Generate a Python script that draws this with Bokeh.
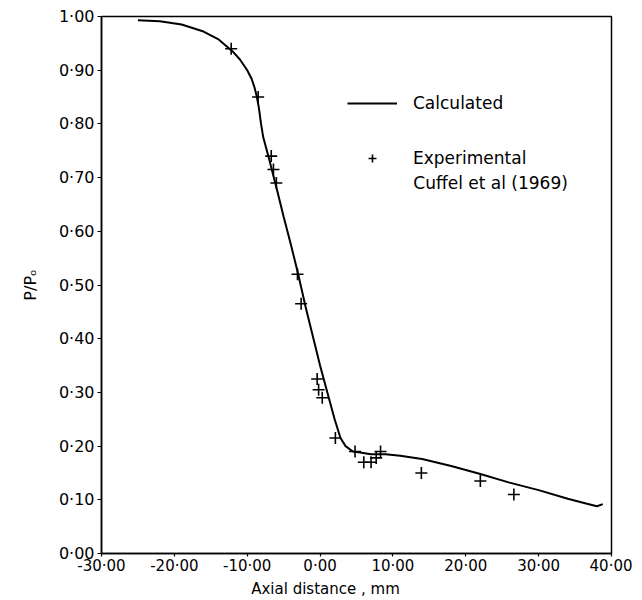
from bokeh.plotting import figure
from bokeh.models import (Range1d, FixedTicker, CustomJSTickFormatter, Legend, LegendItem, Label)
from bokeh.embed import file_html
from bokeh.resources import INLINE

# Calculated curve
calc_x = [-25, -22, -19, -16, -14, -12, -11, -10, -9.4, -9.0, -8.7, -8.4, -8.1, -7.8, -7.4, -7, -6.5, -6,
          -5, -4, -3, -2, -1, 0, 1, 2, 2.8, 3.5, 4.5, 5.5, 7, 9, 11, 14, 18, 22, 26, 30, 34, 36.5, 38, 38.8]
calc_y = [0.993, 0.991, 0.985, 0.972, 0.958, 0.935, 0.92, 0.90, 0.884, 0.868, 0.852, 0.83, 0.80, 0.775,
          0.755, 0.735, 0.708, 0.682, 0.627, 0.575, 0.52, 0.46, 0.405, 0.35, 0.30, 0.25, 0.215, 0.20, 0.19,
          0.188, 0.185, 0.185, 0.182, 0.176, 0.163, 0.148, 0.132, 0.118, 0.102, 0.093, 0.088, 0.092]

# Experimental (Cuffel et al 1969)
exp_x = [-12.2, -8.5, -6.7, -6.4, -6.0, -3.1, -2.6, -0.4, -0.2, 0.3, 2.1, 4.8, 6.0, 7.0, 7.7, 8.3, 13.9, 22.0, 26.6]
exp_y = [0.94, 0.85, 0.74, 0.715, 0.69, 0.52, 0.465, 0.325, 0.305, 0.29, 0.215, 0.19, 0.17, 0.17, 0.178, 0.19, 0.15, 0.135, 0.11]

x_ticks = [-30, -20, -10, 0, 10, 20, 30, 40]
y_ticks = [0.0, 0.1, 0.2, 0.3, 0.4, 0.5, 0.6, 0.7, 0.8, 0.9, 1.0]

FONT = "DejaVu Sans"

p = figure(width=632, height=600, output_backend="svg", toolbar_location=None,
           x_range=Range1d(-30, 40), y_range=Range1d(0, 1),
           min_border_left=101, min_border_right=21, min_border_top=16, min_border_bottom=41)
p.xgrid.visible = False
p.ygrid.visible = False
p.outline_line_color = "black"
p.outline_line_width = 1.5
p.outline_line_alpha = 1

fmt = CustomJSTickFormatter(code="return tick.toFixed(2).replace('.', '\u00b7');")
for ax, ticks in ((p.xaxis[0], x_ticks), (p.yaxis[0], y_ticks)):
    ax.ticker = FixedTicker(ticks=ticks)
    ax.formatter = fmt
    ax.minor_tick_line_color = None
    ax.major_tick_out = 4
    ax.major_tick_in = 0
    ax.axis_line_width = 1.5
    ax.major_tick_line_width = 1.2
    ax.major_label_text_font = FONT
    ax.major_label_text_font_size = "16px"
    ax.major_label_text_color = "black"
    ax.axis_label_text_font = FONT
    ax.axis_label_text_font_size = "16px"
    ax.axis_label_text_font_style = "normal"
    ax.axis_label_text_color = "black"

p.xaxis.major_tick_out = 3
p.xaxis.major_label_text_font_size = "15px"
p.xaxis.axis_label_text_font_size = "15px"
# title sits a little left of the frame centre in the original
p.xaxis.axis_label = "Axial  distance , mm" + "\u00a0" * 12
p.xaxis.major_label_standoff = 0
p.xaxis.axis_label_standoff = 2
p.yaxis.axis_label = "P/P\u2092"
p.yaxis.major_label_standoff = 3
p.yaxis.axis_label_standoff = 16

r_line = p.line(calc_x, calc_y, line_color="black", line_width=2)
r_pts = p.scatter(exp_x, exp_y, marker="cross", size=12, line_color="black", line_width=1.6)

legend = Legend(items=[LegendItem(label="Calculated", renderers=[r_line]),
                       LegendItem(label="Experimental", renderers=[r_pts])],
                location=(246, 385), orientation="vertical",
                glyph_width=50, glyph_height=20, label_height=20, label_standoff=16,
                spacing=35, padding=0, margin=0,
                border_line_color=None, background_fill_alpha=0,
                label_text_font=FONT, label_text_font_size="17px", label_text_color="black")
p.add_layout(legend, "center")

p.add_layout(Label(x=12.8, y=0.69, text="Cuffel  et al (1969)", text_font=FONT,
                   text_font_size="17px", text_baseline="middle", text_color="black"))

open("out.html", "w").write(file_html(p, INLINE))
